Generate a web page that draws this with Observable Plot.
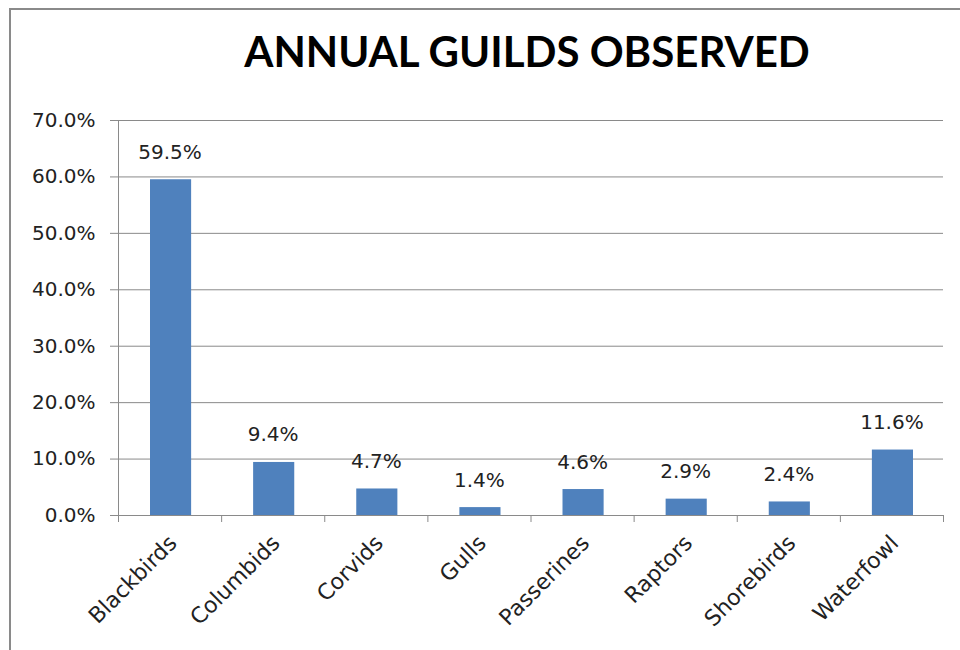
<!DOCTYPE html>
<html>
<head>
<meta charset="utf-8">
<script src="https://cdn.jsdelivr.net/npm/d3@7"></script>
<script src="https://cdn.jsdelivr.net/npm/@observablehq/plot@0.6"></script>
<style>
  html, body { margin: 0; padding: 0; background: #fff; width: 960px; height: 650px; overflow: hidden; }
  #frame { position: absolute; left: 9px; top: 8px; width: 1000px; height: 700px; border-left: 2px solid #8a8a8a; border-top: 2px solid #8a8a8a; }
  #title { position: absolute; left: 0; top: 26px; width: 1054px; text-align: center; font-family: Lato, "Open Sans", sans-serif; font-weight: 700; font-size: 42px; color: #000; line-height: 50px; }
  #chart { position: absolute; left: 0; top: 90px; }
</style>
</head>
<body>
<div id="frame"></div>
<div id="title">ANNUAL GUILDS OBSERVED</div>
<div id="chart"></div>
<script>
const categories = ["Blackbirds", "Columbids", "Corvids", "Gulls", "Passerines", "Raptors", "Shorebirds", "Waterfowl"];
const values = [59.5, 9.4, 4.7, 1.4, 4.6, 2.9, 2.4, 11.6];
const yTicks = [0, 10, 20, 30, 40, 50, 60, 70];

const data = categories.map((c, i) => ({ c, i, v: values[i] }));
const boundaries = d3.range(categories.length + 1);
const centers = categories.map((c, i) => i + 0.5);
const font = "'DejaVu Sans', sans-serif";
const grey = "#8a8a8a";

const chart = Plot.plot({
  width: 960,
  height: 560,
  marginLeft: 118,
  marginRight: 17,
  marginTop: 30,
  marginBottom: 135,
  style: { fontFamily: font, color: "#222", background: "transparent", overflow: "visible" },
  x: { type: "linear", domain: [0, categories.length], label: null },
  y: { domain: [0, 70], label: null },
  marks: [
    Plot.gridY(yTicks, { stroke: grey, strokeOpacity: 1, strokeWidth: 1 }),
    Plot.axisY(yTicks, { label: null, tickFormat: d => d.toFixed(1) + "%", tickSize: 8, tickPadding: 15, stroke: grey, fontSize: 20, fill: "#222" }),
    Plot.ruleX([0], { y1: 0, y2: 70, stroke: grey }),
    Plot.rectY(data, { x1: "i", x2: d => d.i + 1, y: "v", fill: "#4F81BD", insetLeft: 32, insetRight: 30 }),
    Plot.ruleY([0], { stroke: grey }),
    Plot.axisX(boundaries, { label: null, tickFormat: () => "", tickSize: 7, stroke: grey }),
    Plot.axisX(centers, { label: null, tickFormat: d => categories[Math.floor(d)], tickSize: 0, tickPadding: 24, dx: 3, tickRotate: -45, fontSize: 22, fill: "#222" }),
    Plot.text(data, { x: d => d.i + 0.5, y: "v", text: d => d.v.toFixed(1) + "%", lineAnchor: "bottom", dy: -21, fontSize: 20, fill: "#222" })
  ]
});
document.getElementById("chart").appendChild(chart);
</script>
</body>
</html>
